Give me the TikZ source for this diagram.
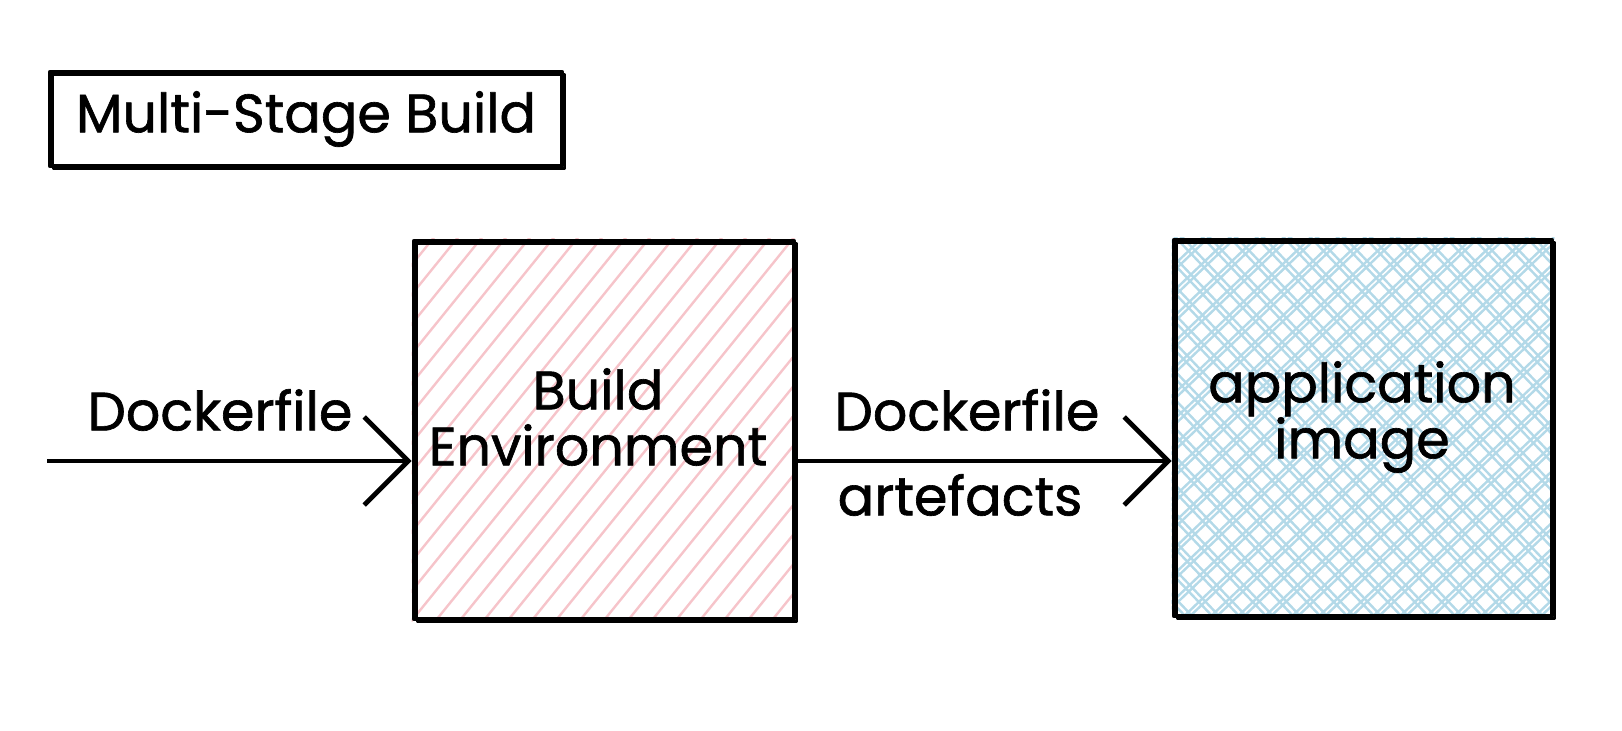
\documentclass[tikz,border=0pt]{standalone}
\usepackage{fontspec}
\setmainfont{Poppins}[FakeBold=1.2]
\usetikzlibrary{arrows.meta, backgrounds}

\definecolor{hatchpink}{HTML}{F6C4CA}
\definecolor{hatchblue}{HTML}{B3D9E8}

\tikzset{
  sketch/.style={draw=black, line width=2.4pt, line join=round, inner sep=0pt,
    postaction={draw=black, line width=1.2pt, transform canvas={shift={(1.5pt,-1.2pt)}}}},
  lbl/.style={font=\fontsize{27}{28}\selectfont, align=center},
  flow/.style={line width=2.4pt, -{Straight Barb[length=22pt,width=44pt]}},
  pinkhatch/.style={draw=hatchpink, line width=1.2pt},
  bluehatch/.style={draw=hatchblue, line width=1.2pt},
}

\begin{document}
\begin{tikzpicture}[x=0.5pt, y=-0.5pt]
  \useasboundingbox (0,0) rectangle (1622,730);

  % title
  \node [sketch, lbl, minimum width=256pt, minimum height=47pt] (title) at (306,119) {Multi-Stage Build};

  % the two stages
  \node [sketch, minimum width=190pt, minimum height=189pt] (build) at (604,430) {};
  \node [sketch, minimum width=189pt, minimum height=188pt] (app) at (1363,428) {};
  \node [lbl] (buildtxt) at (598,417) {Build\\Environment};
  \node [lbl] (apptxt) at (1362,417) {application\\image};

  % hatching behind the boxes
  \begin{pgfonlayer}{background}
    \begin{scope}
      \clip (build.south west) rectangle (build.north east);
      \foreach \x in {60,84,...,820}
        \draw [pinkhatch] (\x,640) -- ++(340,-420);
    \end{scope}
    \begin{scope}
      \clip (app.south west) rectangle (app.north east);
      \foreach \x in {700,727,...,1570} {
        \draw [bluehatch] (\x,640) -- ++(440,-420);
        \draw [bluehatch] (\x+6,640) -- ++(440,-420);
        \draw [bluehatch] (\x,220) -- ++(400,420);
        \draw [bluehatch] (\x+7,220) -- ++(400,420);
      }
    \end{scope}
  \end{pgfonlayer}

  % connectors
  \coordinate (src) at (47,461);
  \draw [flow] (src) -- (src -| build.west);
  \draw [flow] (build.east |- src) -- (app.west |- src);

  \node [lbl] (dfin) at (220,410) {Dockerfile};
  \node [lbl] (dfout) at (967,410) {Dockerfile};
  \node [lbl] (artefacts) at (960,495) {artefacts};
\end{tikzpicture}
\end{document}
